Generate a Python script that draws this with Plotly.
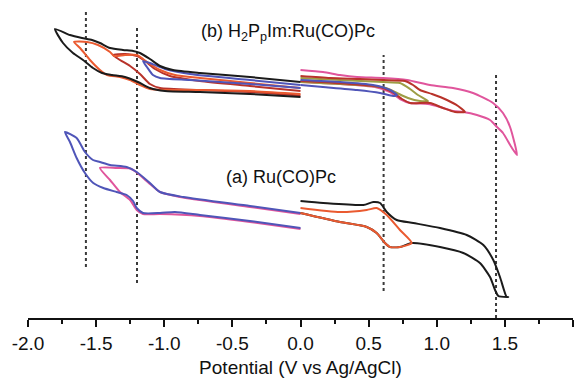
import plotly.graph_objects as go

# Cyclic voltammograms, potential in V vs Ag/AgCl, current in arbitrary units (offset stacks)

# ---- (b) H2PpIm:Ru(CO)Pc, cathodic scans ----
b_black_cat_v = [0.0, -0.371, -0.738, -0.936, -1.031, -1.105, -1.178, -1.229, -1.303, -1.398, -1.472, -1.530, -1.604, -1.692, -1.802,
                 -1.743, -1.670, -1.596, -1.523, -1.457, -1.384, -1.288, -1.193, -1.105, -0.995, -0.738, -0.371, 0.0]
b_black_cat_i = [236, 241, 245, 248, 252, 259, 265, 267, 268, 270, 275, 278, 280, 283, 289,
                 275, 265, 258, 250, 245, 243, 241, 236, 230, 227, 226, 224, 221]

b_orange_cat_v = [0.0, -0.371, -0.738, -0.921, -1.031, -1.105, -1.156, -1.200, -1.288, -1.369, -1.398, -1.486, -1.567, -1.662,
                  -1.618, -1.545, -1.472, -1.420, -1.325, -1.251, -1.178, -1.105, -0.995, -0.738, -0.371, 0.0]
b_orange_cat_i = [230, 235, 240, 243, 248, 254, 259, 263, 263, 262, 266, 273, 276, 276,
                  270, 258, 248, 243, 241, 238, 233, 229, 228, 228, 227, 224]

b_red_cat_v = [0.0, -0.371, -0.738, -0.958, -1.068, -1.141, -1.200, -1.288, -1.376,
               -1.325, -1.251, -1.178, -1.105, -1.031, -0.738, -0.371, 0.0]
b_red_cat_i = [227, 232, 237, 242, 249, 257, 262, 264, 263,
               258, 252, 244, 234, 230, 228, 226, 222.5]

b_blue_cat_v = [0.0, -0.371, -0.811, -0.995, -1.105, -1.156, -1.127, -1.083, -1.031, -0.811, -0.371, 0.0]
b_blue_cat_i = [233, 238, 244, 249, 255, 257, 251, 243, 240, 238, 234, 230]

# ---- (b) H2PpIm:Ru(CO)Pc, anodic scans ----
b_pink_an_v = [0.0, 0.165, 0.290, 0.415, 0.606, 0.782, 0.950, 1.119, 1.266, 1.413, 1.486, 1.538, 1.589,
               1.552, 1.486, 1.442, 1.391, 1.295, 1.193, 1.119, 1.024, 0.936, 0.804, 0.730, 0.657, 0.547, 0.290, 0.0]
b_pink_an_i = [248, 246, 243, 241, 240, 238, 233, 230, 225, 215, 205, 191, 163,
               170, 185, 191, 198, 203, 206, 207, 211, 214, 215, 219, 226, 231, 234, 236]

b_red_an_v = [0.0, 0.217, 0.437, 0.606, 0.767, 0.826, 0.877, 0.965, 1.075, 1.156, 1.207,
              1.134, 1.046, 0.950, 0.804, 0.745, 0.672, 0.584, 0.363, 0.143, 0.0]
b_red_an_i = [242, 240, 239, 238, 237, 233, 228, 224, 218, 212, 206,
              206, 210, 215, 215, 219, 226, 231, 234, 236, 237]

b_olive_an_v = [0.0, 0.290, 0.606, 0.730, 0.804, 0.862, 0.936, 0.877, 0.789, 0.708, 0.628, 0.437, 0.143, 0.0]
b_olive_an_i = [240, 238, 236, 235, 229, 223, 217, 217, 220, 225, 230, 233, 235, 236]

b_blue_an_v = [0.0, 0.290, 0.532, 0.657, 0.708, 0.679, 0.584, 0.415, 0.165, 0.0]
b_blue_an_i = [238, 236, 233, 228, 223, 222, 225, 228, 231, 233]

# ---- (a) Ru(CO)Pc, cathodic scans ----
a_pink_cat_v = [0.0, -0.371, -0.862, -1.031, -1.105, -1.202, -1.251, -1.349, -1.472,
                -1.398, -1.325, -1.251, -1.202, -1.156, -1.031, -0.738, -0.371, 0.0]
a_pink_cat_i = [104, 111, 120.5, 126, 134, 145.5, 149.5, 150, 150,
                138, 126, 118, 108, 104, 104, 102, 96, 89]

a_blue_cat_v = [0.0, -0.371, -0.862, -1.031, -1.105, -1.202, -1.276, -1.398, -1.472, -1.523, -1.582, -1.643, -1.729,
                -1.692, -1.643, -1.582, -1.521, -1.447, -1.349, -1.276, -1.229, -1.202, -1.156, -1.031, -0.921, -0.738, -0.371, 0.0]
a_blue_cat_i = [105, 112, 121, 126, 135, 146, 151, 153, 156, 158, 166, 180, 186,
                176, 160, 145, 135, 130, 126, 123, 117, 110, 105, 105, 106, 103, 97, 90]

# ---- (a) Ru(CO)Pc, anodic scans ----
a_black_an_v = [0.0, 0.167, 0.461, 0.534, 0.584, 0.633, 0.706, 0.828, 1.024, 1.220, 1.342, 1.415, 1.464, 1.513, 1.525,
                1.452, 1.428, 1.391, 1.317, 1.195, 1.024, 0.816, 0.730, 0.657, 0.620, 0.559, 0.486, 0.290, 0.0]
a_black_an_i = [117, 115, 113, 116, 115, 106, 98, 95, 90, 83, 73, 58, 41, 21, 21,
                22, 28, 41, 55, 65, 71, 75, 71, 71, 75, 85, 91, 96, 105]

a_orange_an_v = [0.0, 0.290, 0.486, 0.559, 0.633, 0.730, 0.816,
                 0.730, 0.657, 0.620, 0.559, 0.486, 0.290, 0.0]
a_orange_an_i = [110, 106, 108, 110, 103, 88, 75,
                 71, 71, 75, 85, 91, 96, 105]

# Reference potentials (dotted guides) and their vertical extents
guide_v = [-1.575, -1.20, 0.61, 1.435]
guide_top = [306, 290, 263, 245]
guide_bottom = [51, 35, 27, 0]

x_ticks = [-2.0, -1.5, -1.0, -0.5, 0.0, 0.5, 1.0, 1.5, 2.0]
x_tick_text = ["-2.0", "-1.5", "-1.0", "-0.5", "0.0", "0.5", "1.0", "1.5", "2.0"]

BLACK = "#1b1b1b"
ORANGE = "#ea5a30"
DARKRED = "#b8332a"
BLUE = "#4f55b8"
PINK = "#e0559c"
OLIVE = "#9d9d45"

fig = go.Figure()

for xv, top, bot in zip(guide_v, guide_top, guide_bottom):
    fig.add_trace(go.Scatter(x=[xv, xv], y=[bot, top], mode="lines",
                             line=dict(color="#3a3a3a", width=2, dash="dot"),
                             hoverinfo="skip", showlegend=False))

curves = [
    (b_pink_an_v, b_pink_an_i, PINK),
    (b_olive_an_v, b_olive_an_i, OLIVE),
    (b_red_an_v, b_red_an_i, DARKRED),
    (b_blue_an_v, b_blue_an_i, BLUE),
    (b_red_cat_v, b_red_cat_i, DARKRED),
    (b_orange_cat_v, b_orange_cat_i, ORANGE),
    (b_blue_cat_v, b_blue_cat_i, BLUE),
    (b_black_cat_v, b_black_cat_i, BLACK),
    (a_pink_cat_v, a_pink_cat_i, PINK),
    (a_blue_cat_v, a_blue_cat_i, BLUE),
    (a_black_an_v, a_black_an_i, BLACK),
    (a_orange_an_v, a_orange_an_i, ORANGE),
]
for xs, ys, col in curves:
    fig.add_trace(go.Scatter(x=xs, y=ys, mode="lines",
                             line=dict(color=col, width=2, shape="spline", smoothing=0.6),
                             hoverinfo="skip", showlegend=False))

FONT = "Arial, Liberation Sans, sans-serif"

fig.add_annotation(x=-0.745, y=286, xref="x", yref="y", xanchor="left", yanchor="middle",
                   text="(b) H<sub>2</sub>P<sub>p</sub>Im:Ru(CO)Pc", showarrow=False,
                   font=dict(family=FONT, size=18, color="#111"))
fig.add_annotation(x=-0.56, y=141, xref="x", yref="y", xanchor="left", yanchor="middle",
                   text="(a) Ru(CO)Pc", showarrow=False,
                   font=dict(family=FONT, size=18, color="#111"))

fig.update_layout(
    width=584, height=378,
    margin=dict(l=28, r=11, t=0, b=60),
    paper_bgcolor="white", plot_bgcolor="white",
    font=dict(family=FONT, color="#111"),
    xaxis=dict(range=[-2.0, 2.0], tickvals=x_ticks, ticktext=x_tick_text,
               showline=True, linecolor="#111", linewidth=1.5,
               ticks="outside", ticklen=7, tickwidth=1.5, tickcolor="#111",
               minor=dict(dtick=0.25, ticks="outside", ticklen=4, tickwidth=1.5, tickcolor="#111"),
               showgrid=False, zeroline=False,
               tickfont=dict(family=FONT, size=19),
               title=dict(text="Potential (V vs Ag/AgCl)", font=dict(family=FONT, size=19), standoff=8)),
    yaxis=dict(range=[0, 318], visible=False, showgrid=False, zeroline=False),
)

fig.write_html("out.html")
